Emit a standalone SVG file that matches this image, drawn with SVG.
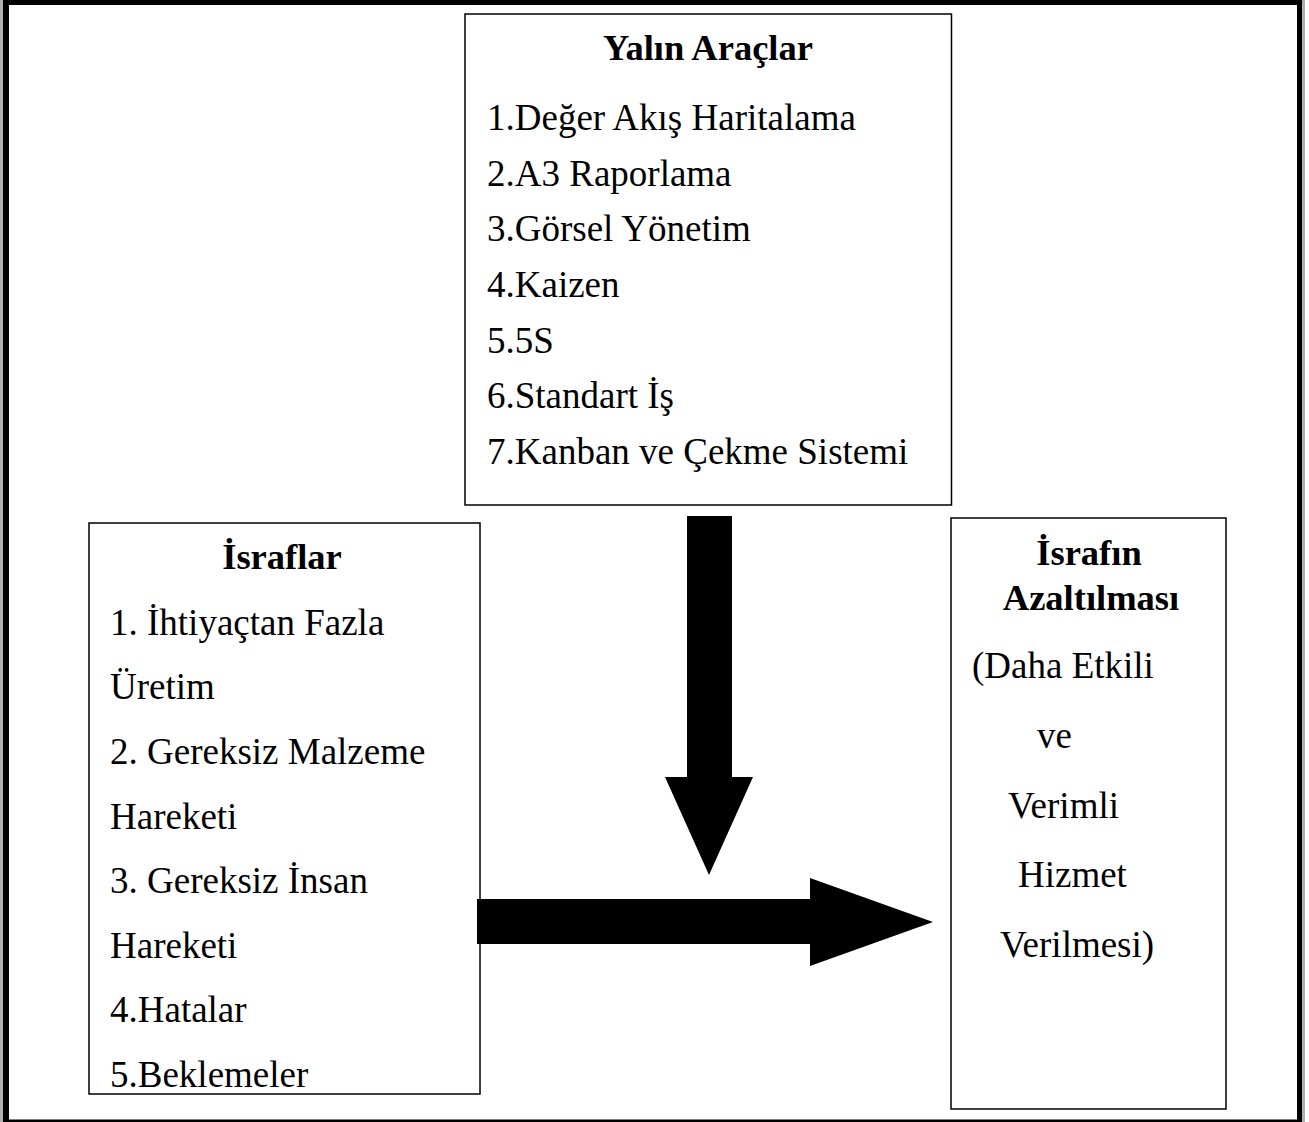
<svg xmlns="http://www.w3.org/2000/svg" width="1309" height="1122" viewBox="0 0 1309 1122">
<style>
  .box { fill: #fff; stroke: #000; stroke-width: 1.5; }
  .t { font-family: "Liberation Serif", "Times New Roman", serif; font-size: 37px; fill: #000; }
  .b { font-family: "Liberation Serif", "Times New Roman", serif; font-size: 36.5px; font-weight: bold; fill: #000; text-anchor: middle; }
  .arrow { fill: #000; }
</style>
<rect x="0" y="0" width="1309" height="1122" fill="#fff"/>
<g id="frame">
  <rect x="0" y="0" width="3" height="1122" fill="#b0b0b0"/>
  <rect x="1302" y="0" width="3" height="1122" fill="#b0b0b0"/>
  <rect x="3" y="0" width="1299" height="5" fill="#000"/>
  <rect x="3" y="0" width="6" height="1122" fill="#000"/>
  <rect x="1297" y="0" width="5" height="1122" fill="#000"/>
  <rect x="3" y="1119.5" width="1299" height="2.5" fill="#000"/>
</g>
<g id="node-yalin-araclar">
  <rect class="box" x="465" y="14" width="486.5" height="491"/>
  <text class="b" x="708" y="60">Yalın Araçlar</text>
  <text class="t" x="487" y="130">1.Değer Akış Haritalama</text>
  <text class="t" x="487" y="186">2.A3 Raporlama</text>
  <text class="t" x="487" y="241">3.Görsel Yönetim</text>
  <text class="t" x="487" y="297">4.Kaizen</text>
  <text class="t" x="487" y="353">5.5S</text>
  <text class="t" x="487" y="408">6.Standart İş</text>
  <text class="t" x="487" y="464">7.Kanban ve Çekme Sistemi</text>
</g>
<g id="node-israflar">
  <rect class="box" x="89" y="523" width="391" height="571"/>
  <text class="b" x="282" y="569">İsraflar</text>
  <text class="t" x="110" y="635">1. İhtiyaçtan Fazla</text>
  <text class="t" x="110" y="699">Üretim</text>
  <text class="t" x="110" y="764">2. Gereksiz Malzeme</text>
  <text class="t" x="110" y="829">Hareketi</text>
  <text class="t" x="110" y="893">3. Gereksiz İnsan</text>
  <text class="t" x="110" y="958">Hareketi</text>
  <text class="t" x="110" y="1022">4.Hatalar</text>
  <text class="t" x="110" y="1087">5.Beklemeler</text>
</g>
<g id="node-israfin-azaltilmasi">
  <rect class="box" x="951" y="518" width="275" height="591"/>
  <text class="b" x="1089" y="565">İsrafın</text>
  <text class="b" x="1091" y="610">Azaltılması</text>
  <text class="t" x="972" y="678">(Daha Etkili</text>
  <text class="t" x="1037" y="748">ve</text>
  <text class="t" x="1008" y="818">Verimli</text>
  <text class="t" x="1018" y="887">Hizmet</text>
  <text class="t" x="1000" y="957">Verilmesi)</text>
</g>
<g id="connectors">
  <polygon class="arrow" points="687,516 732,516 732,777 753,777 709,875 665,777 687,777"/>
  <polygon class="arrow" points="477,899 810,899 810,878 933,922 810,966 810,944 477,944"/>
</g>
</svg>
